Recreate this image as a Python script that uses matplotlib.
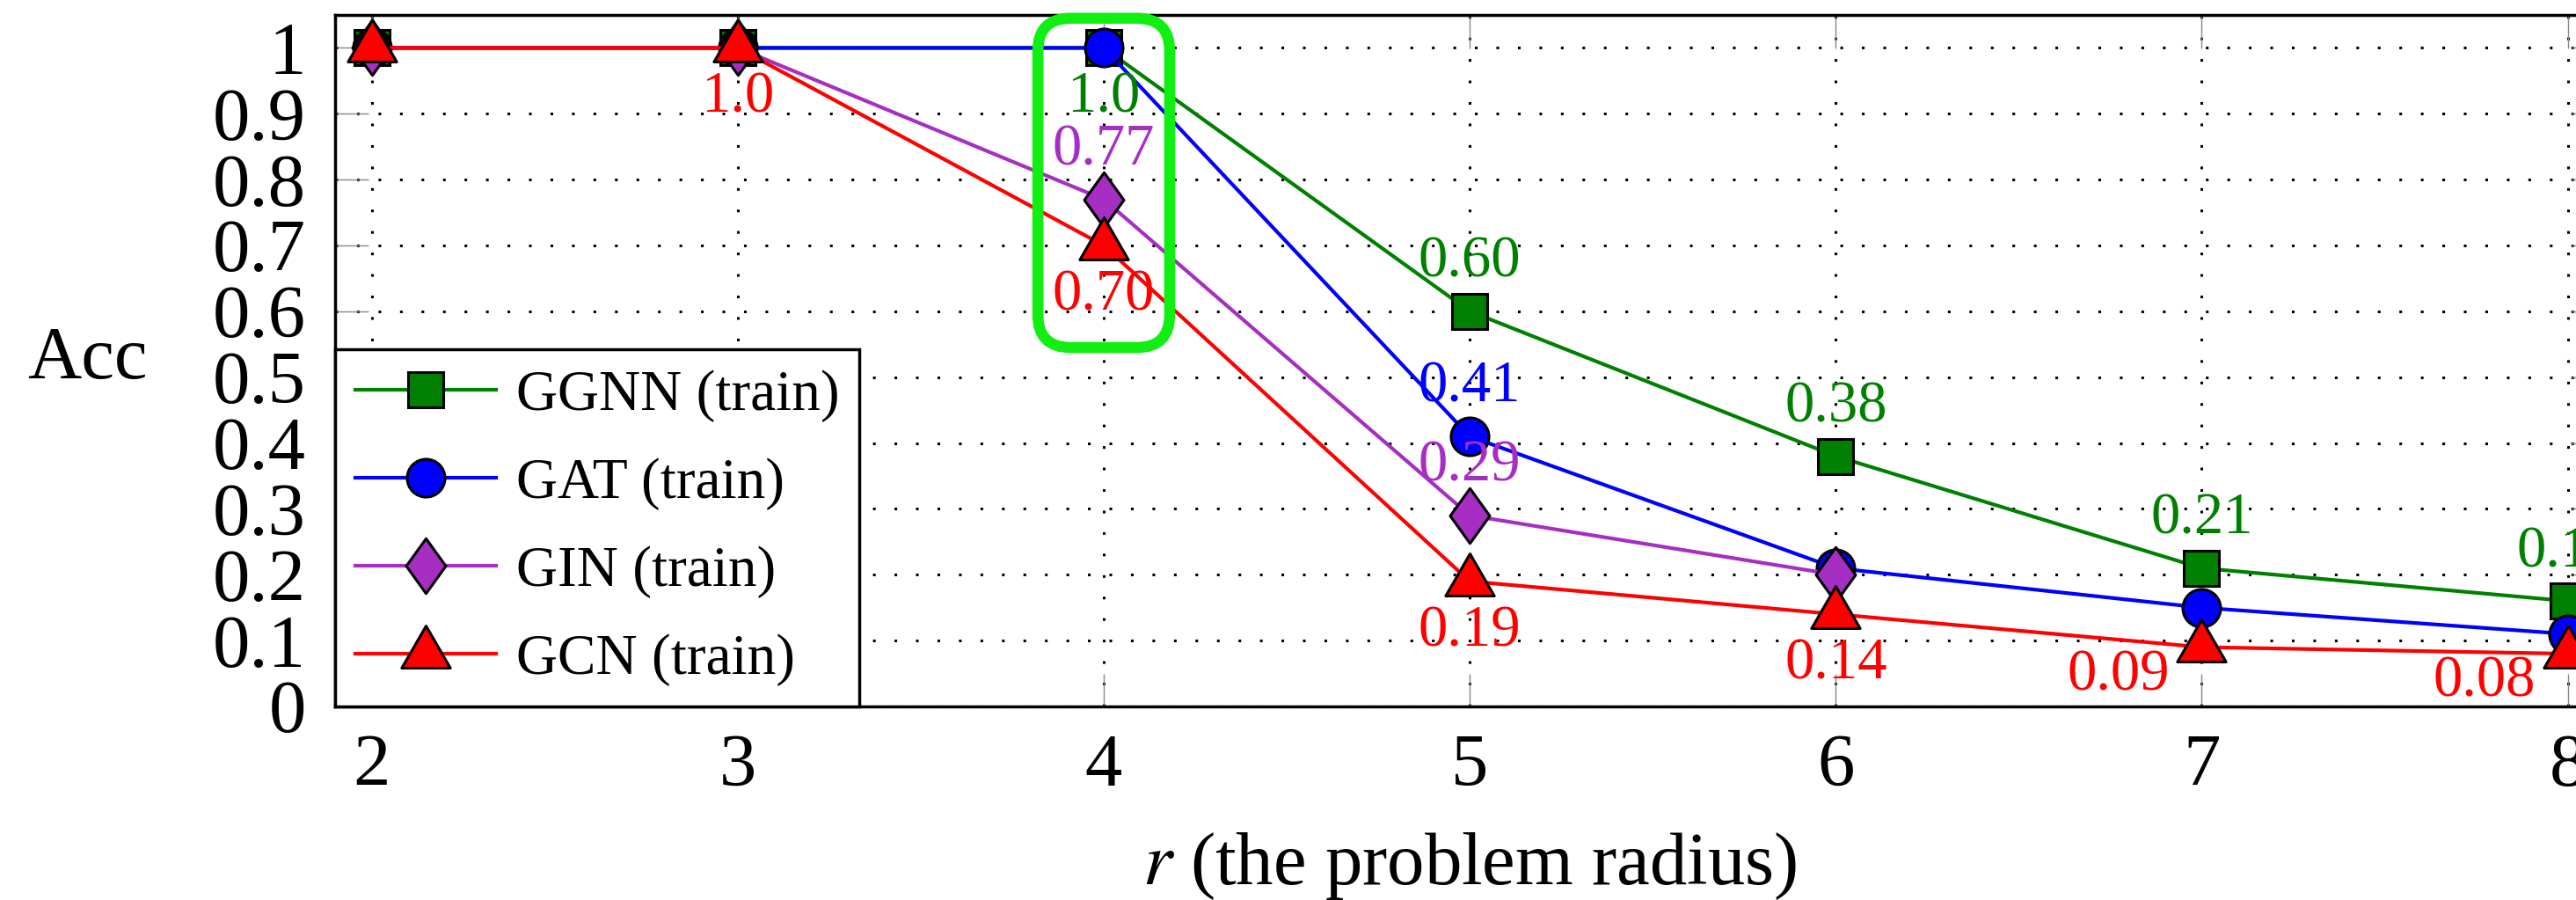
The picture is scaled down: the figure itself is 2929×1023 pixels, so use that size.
import numpy as np
import matplotlib
matplotlib.use("Agg")
import matplotlib.pyplot as plt
from matplotlib.path import Path
from matplotlib.patches import FancyBboxPatch

plt.rcParams['font.family'] = ['Liberation Serif', 'DejaVu Serif']
plt.rcParams['mathtext.fontset'] = 'stix'

# data
radius = [2, 3, 4, 5, 6, 7, 8]
ggnn = [1.0, 1.0, 1.0, 0.60, 0.38, 0.21, 0.16]
gat = [1.0, 1.0, 1.0, 0.41, 0.21, 0.15, 0.11]
gin = [1.0, 1.0, 0.77, 0.29, 0.20, np.nan, np.nan]
gcn = [1.0, 1.0, 0.70, 0.19, 0.14, 0.09, 0.08]
series_names = ['GGNN (train)', 'GAT (train)', 'GIN (train)', 'GCN (train)']
y_ticks = [0, 0.1, 0.2, 0.3, 0.4, 0.5, 0.6, 0.7, 0.8, 0.9, 1]
y_tick_labels = ['0', '0.1', '0.2', '0.3', '0.4', '0.5', '0.6', '0.7', '0.8', '0.9', '1']
highlight_r = 4

# which points get a value label: (index, where)
labels_ggnn = [(2, 'below'), (3, 'above'), (4, 'above'), (5, 'above'), (6, 'above')]
labels_gat = [(3, 'above')]
labels_gin = [(2, 'above'), (3, 'above')]
labels_gcn = [(1, 'below'), (2, 'below'), (3, 'below'), (4, 'below'),
              (5, 'belowleft'), (6, 'belowleft')]

green = '#008000'
blue = '#0000ff'
purple = '#a62ec2'
red = '#ff0000'

tri = Path([(0, 1), (-0.866, -0.5), (0.866, -0.5), (0, 1)],
           [Path.MOVETO, Path.LINETO, Path.LINETO, Path.CLOSEPOLY])
dia = Path([(0, 1), (0.72, 0), (0, -1), (-0.72, 0), (0, 1)],
           [Path.MOVETO, Path.LINETO, Path.LINETO, Path.LINETO, Path.CLOSEPOLY])

styles = [
    (ggnn, green, 's', 29, labels_ggnn),
    (gat, blue, 'o', 31, labels_gat),
    (gin, purple, dia, 45, labels_gin),
    (gcn, red, tri, 46, labels_gcn),
]

fig = plt.figure(figsize=(29.29, 10.23), dpi=100)
ax = fig.add_axes([0.1301, 0.2151, 0.8809, 0.7683])

for (vals, col, mk, ms, labs), name in zip(styles, series_names):
    ax.plot(radius, vals, color=col, lw=3, marker=mk, markersize=ms,
            markerfacecolor=col, markeredgecolor='black', markeredgewidth=2.2,
            label=name, clip_on=False, zorder=3)
    for i, where in labs:
        v = vals[i]
        txt = '1.0' if v == 1.0 else f'{v:.2f}'
        if where == 'above':
            off = (0, 40)
        elif where == 'below':
            off = (0, -41)
        else:
            off = (-68, -23)
        ax.annotate(txt, (radius[i], v), xytext=off, textcoords='offset points',
                    ha='center', va='center', color=col, fontsize=48, zorder=4,
                    annotation_clip=False)

ax.set_xlim(1.9, 8.1)
ax.set_ylim(0, 1.05)
ax.set_xticks(radius)
ax.set_yticks(y_ticks)
ax.set_yticklabels(y_tick_labels)
ax.tick_params(axis='both', which='major', direction='in', length=27, width=1,
               color='#888888', top=True, right=True, labelsize=61)
ax.tick_params(axis='y', pad=24)
ax.tick_params(axis='x', pad=22)
ax.grid(True, color='black', linestyle=(0, (1, 7)), linewidth=2.2, zorder=0)
ax.set_axisbelow(True)
for sp in ax.spines.values():
    sp.set_linewidth(2.5)

ax.set_ylabel('Acc', fontsize=61, rotation=0, ha='center', va='center')
ax.yaxis.set_label_coords(-0.109, 0.5)
ax.set_xlabel('$r$ (the problem radius)', fontsize=61, va='center')
ax.xaxis.set_label_coords(0.5, -0.232)

leg = ax.legend(loc='lower left', bbox_to_anchor=(0, 0), borderaxespad=0,
                fontsize=47, fancybox=False, framealpha=1, edgecolor='black',
                handlelength=2.45, handletextpad=0.35, borderpad=0.35,
                labelspacing=0.62, numpoints=1, markerscale=1.0)
leg.get_frame().set_linewidth(2.5)
leg.set_zorder(5)

# green highlight box around r = 4
box = FancyBboxPatch((highlight_r - 0.18, 0.545), 0.36, 0.50,
                     boxstyle='round,pad=0,rounding_size=0.09',
                     mutation_aspect=0.55, fill=False, edgecolor='#11ee11',
                     linewidth=9, clip_on=False, zorder=6)
ax.add_patch(box)

fig.savefig('out.png', dpi=100)
